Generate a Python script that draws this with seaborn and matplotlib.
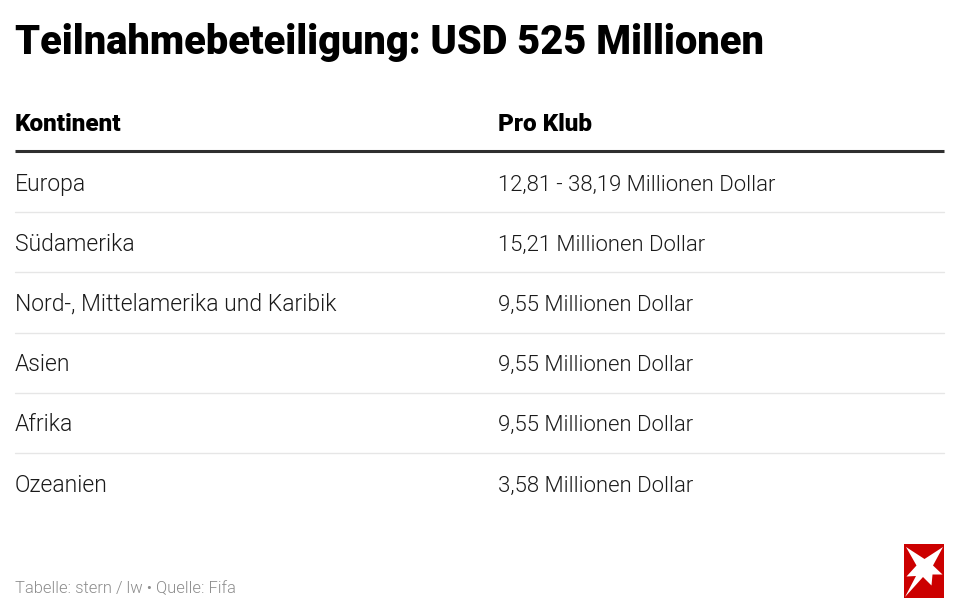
import matplotlib
matplotlib.use("Agg")
import matplotlib.pyplot as plt
from matplotlib.patches import Polygon, Rectangle
import seaborn as sns
import pandas as pd

title = "Teilnahmebeteiligung: USD 525 Millionen"
col_headers = ["Kontinent", "Pro Klub"]
continents = ["Europa", "Südamerika", "Nord-, Mittelamerika und Karibik", "Asien", "Afrika", "Ozeanien"]
payments = ["12,81 - 38,19 Millionen Dollar", "15,21 Millionen Dollar", "9,55 Millionen Dollar",
            "9,55 Millionen Dollar", "9,55 Millionen Dollar", "3,58 Millionen Dollar"]
footer = "Tabelle: stern / lw • Quelle: Fifa"

sns.set_theme(style="white")
plt.rcParams['font.family'] = ['Roboto', 'DejaVu Sans']
df = pd.DataFrame({"Kontinent": continents, "Pro Klub": payments})

fig = plt.figure(figsize=(9.6, 6.14), dpi=100)
ax = fig.add_axes([0, 0, 1, 1])
ax.set_xlim(0, 960); ax.set_ylim(614, 0); ax.axis("off")

ax.text(15, 53.5, title, fontsize=28.65, fontweight=900, va="baseline", ha="left", color="#000000")
ax.text(15, 131, col_headers[0], fontsize=17.5, fontweight=900, va="baseline", color="#000000")
ax.text(498, 131, col_headers[1], fontsize=17.5, fontweight=900, va="baseline", color="#000000")
ax.plot([15, 944], [151, 151], color="#2f2f2f", lw=2.2, solid_capstyle="butt")
for i, row in df.iterrows():
    y = 190.5 + i * 60.2
    ax.text(15, y, row["Kontinent"], fontsize=16.5, fontweight=300, va="baseline", color="#1a1a1a")
    ax.text(498, y, row["Pro Klub"], fontsize=15.9, fontweight=300, va="baseline", color="#1a1a1a")
    if i < len(df) - 1:
        ax.plot([15, 944], [212 + i * 60.3, 212 + i * 60.3], color="#e6e6e6", lw=1)
ax.text(15, 593, footer, fontsize=11.9, fontweight=300, va="baseline", color="#8c8c8c")

ax.add_patch(Rectangle((904, 544), 40, 53.5, color="#cc0000", lw=0))
star = [(906, 547), (924.5, 559), (943, 547), (933, 565.5), (942.5, 574.5), (932.5, 574.5),
        (931.5, 585.5), (923, 577), (905, 597), (916, 576), (906.5, 576.5), (916.5, 565.5)]
ax.add_patch(Polygon(star, closed=True, color="white", lw=0))
fig.savefig("out.png", dpi=100)
